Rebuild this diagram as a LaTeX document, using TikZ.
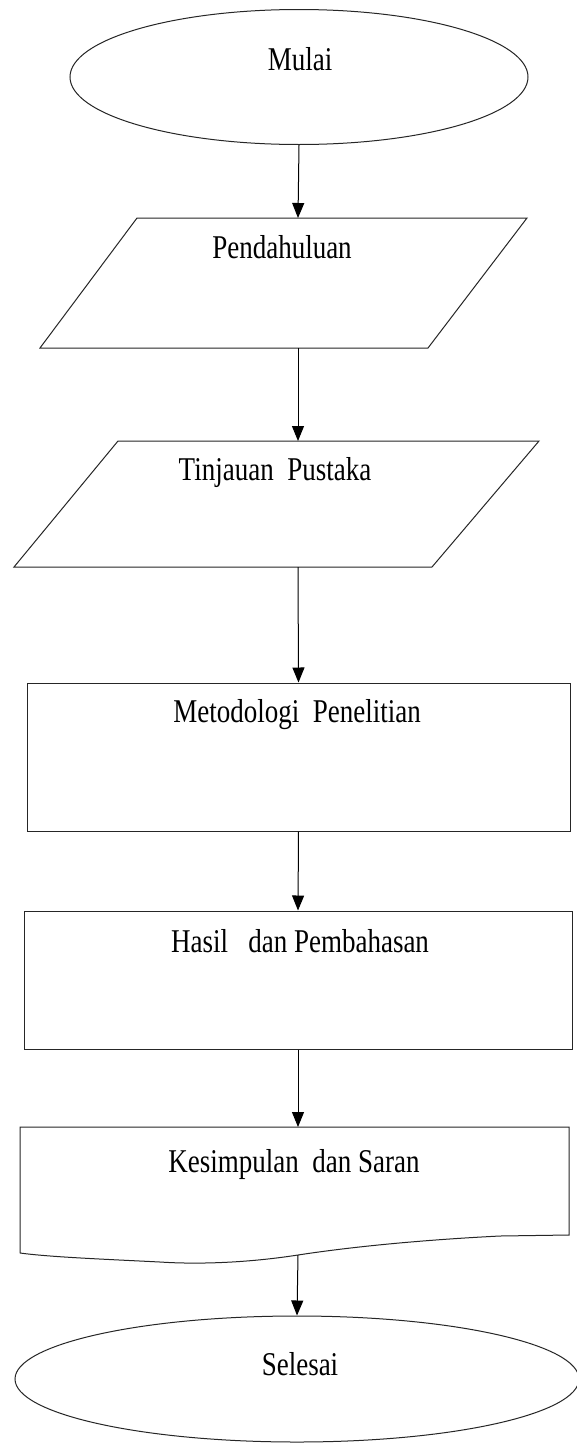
\documentclass[tikz,border=0pt]{standalone}
\usepackage{fontspec}
\setmainfont{Liberation Serif}
\usetikzlibrary{arrows.meta,shapes.geometric}
\begin{document}
\begin{tikzpicture}[x=1pt,y=-1pt,
  line width=1pt,
  shapeline/.style={draw=black!85, line width=1pt},
  conn/.style={draw=black, line width=1pt, -{Triangle[width=12pt,length=15pt]}},
  lbl/.style={anchor=base, inner sep=0pt, font=\fontsize{27}{30}\selectfont},
  endshape/.style={ellipse, shapeline, inner sep=0pt}
]
\useasboundingbox (0,0) rectangle (576,1443);
\fill[white] (0,0) rectangle (576,1443);

% Mulai
\node[endshape, minimum width=458pt, minimum height=135pt] (mulai) at (299,77) {};
\node[lbl] (tmulai) at (300,70) {\scalebox{1}[1.23]{Mulai}};

% Pendahuluan
\draw[shapeline] (137,218) -- (527,218) -- (428,348) -- (40,348) -- cycle;
\coordinate (pendtop) at (298,218);
\coordinate (pendbot) at (298,348);
\node[lbl] (tpend) at (282,258) {\scalebox{1}[1.23]{Pendahuluan}};

% Tinjauan Pustaka
\draw[shapeline] (118,441) -- (539,441) -- (432,567) -- (14,567) -- cycle;
\coordinate (tinjtop) at (298,441);
\coordinate (tinjbot) at (298,567);
\node[lbl] (ttinj) at (275,480) {\scalebox{1}[1.23]{Tinjauan\ \ Pustaka}};

% Metodologi Penelitian
\node[rectangle, shapeline, minimum width=543pt, minimum height=148pt, inner sep=0pt] (metod) at (298.5,757) {};
\node[lbl] (tmetod) at (297,722) {\scalebox{1}[1.23]{Metodologi\ \ Penelitian}};

% Hasil dan Pembahasan
\node[rectangle, shapeline, minimum width=548pt, minimum height=138pt, inner sep=0pt] (hasil) at (298,980) {};
\node[lbl] (thasil) at (300,952) {\scalebox{1}[1.23]{Hasil\ \ \ dan Pembahasan}};

% Kesimpulan dan Saran (document)
\draw[shapeline] (20,1253) -- (20,1127) -- (569,1127) -- (569,1235)
  -- (500,1236) .. controls (420,1240) and (350,1247) .. (298,1255)
  .. controls (240,1264) and (190,1264) .. (160,1262)
  .. controls (100,1259) and (50,1257) .. (20,1253);
\coordinate (doctop) at (298,1127);
\coordinate (docbot) at (298,1255);
\node[lbl] (tdoc) at (294,1172) {\scalebox{1}[1.23]{Kesimpulan\ \ dan Saran}};

% Selesai
\node[endshape, minimum width=564pt, minimum height=126pt] (selesai) at (297,1379) {};
\node[lbl] (tsel) at (300,1375) {\scalebox{1}[1.23]{Selesai}};

% connectors
\draw[conn] (mulai.south) -- (pendtop);
\draw[conn] (pendbot) -- (tinjtop);
\draw[conn] (tinjbot) -- (metod.north);
\draw[conn] (metod.south) -- (hasil.north);
\draw[conn] (hasil.south) -- (doctop);
\draw[conn] (docbot) -- (selesai.north);
\end{tikzpicture}
\end{document}
